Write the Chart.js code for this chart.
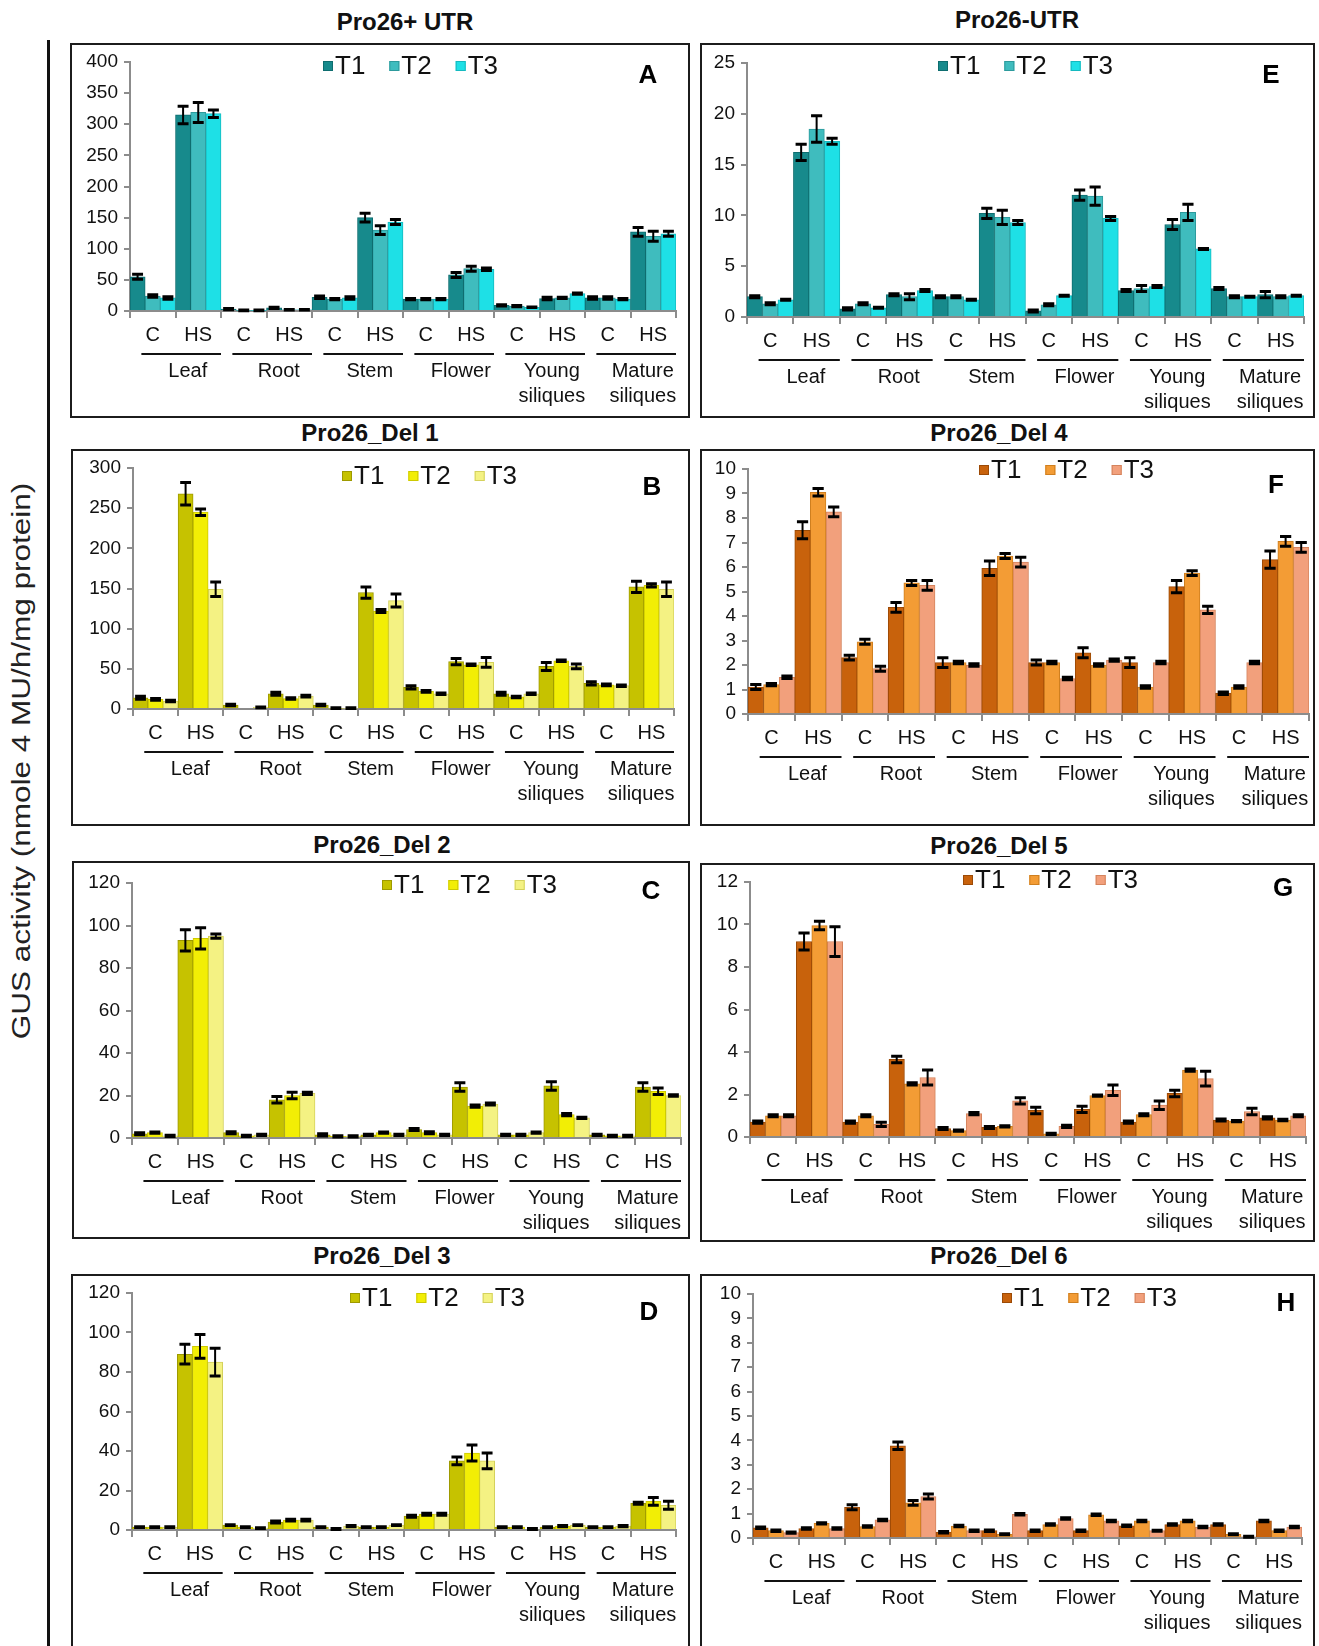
<!DOCTYPE html>
<html>
<head>
<meta charset="utf-8">
<script src="https://cdn.jsdelivr.net/npm/chart.js@4.4.1/dist/chart.umd.min.js"></script>
<style>
  html, body { margin: 0; padding: 0; background: #fff; }
  body { width: 1319px; height: 1646px; position: relative; overflow: hidden;
         font-family: "Liberation Sans", Arial, sans-serif; }
  canvas { position: absolute; }
  .frame { position: absolute; border: 2px solid #1c1c1c; box-sizing: border-box; pointer-events: none; }
  .ttl { position: absolute; font-weight: bold; font-size: 24px; white-space: nowrap;
         transform: translate(-50%, -50%); color: #111; }
  .letter { position: absolute; font-weight: bold; font-size: 26px;
            transform: translate(-50%, -50%); color: #000; }
  #vline { position: absolute; left: 47px; top: 40px; width: 3px; height: 1606px; background: #111; }
  #ylab { position: absolute; left: 21px; top: 761px; font-size: 25px; white-space: nowrap; color: #222;
          transform: translate(-50%, -50%) rotate(-90deg) scaleX(1.26); }
</style>
</head>
<body>
<div id="vline"></div>
<div id="ylab">GUS activity (nmole 4 MU/h/mg protein)</div>
<script>
// ---- shared categories ----
const conditionLabels = ['C', 'HS', 'C', 'HS', 'C', 'HS', 'C', 'HS', 'C', 'HS', 'C', 'HS'];
const tissueLabels = ['Leaf', 'Root', 'Stem', 'Flower', 'Young siliques', 'Mature siliques'];
const seriesNames = ['T1', 'T2', 'T3'];

// ---- Pro26+ UTR (A) ----
const utrPlusT1 = [55, 315, 3, 5, 22, 150, 19, 58, 9, 20, 21, 127];
const utrPlusT2 = [24, 319, 1, 2, 19, 130, 19, 68, 8, 21, 21, 120];
const utrPlusT3 = [21, 317, 1, 2, 21, 143, 19, 67, 6, 28, 19, 124];
const utrPlusErr1 = [4, 14, 1, 1, 2, 7, 1, 4, 1, 2, 2, 7];
const utrPlusErr2 = [2, 16, 0.5, 0.5, 1, 7, 1, 4, 1, 1, 2, 8];
const utrPlusErr3 = [2, 6, 0.5, 0.5, 2, 4, 1, 2, 0.5, 1, 1, 4];

// ---- Pro26-UTR (E) ----
const utrMinusT1 = [2.0, 16.2, 0.8, 2.2, 2.0, 10.2, 0.6, 12.0, 2.6, 9.1, 2.8, 2.2];
const utrMinusT2 = [1.3, 18.5, 1.3, 2.0, 2.0, 9.8, 1.2, 11.9, 2.8, 10.3, 2.0, 2.0];
const utrMinusT3 = [1.7, 17.3, 0.9, 2.6, 1.7, 9.3, 2.1, 9.7, 3.0, 6.7, 2.0, 2.1];
const utrMinusErr1 = [0.1, 0.8, 0.1, 0.1, 0.1, 0.5, 0.1, 0.5, 0.1, 0.5, 0.1, 0.3];
const utrMinusErr2 = [0.1, 1.3, 0.1, 0.3, 0.1, 0.7, 0.1, 0.9, 0.3, 0.8, 0.1, 0.1];
const utrMinusErr3 = [0.05, 0.3, 0.05, 0.1, 0.05, 0.2, 0.05, 0.2, 0.1, 0.05, 0.05, 0.05];

// ---- Pro26_Del 1 (B) ----
const del1T1 = [14, 268, 5, 19, 5, 145, 27, 59, 19, 53, 32, 152];
const del1T2 = [12, 245, 0, 13, 1, 122, 22, 55, 15, 60, 30, 154];
const del1T3 = [10, 149, 2, 16, 1, 135, 19, 58, 19, 53, 29, 149];
const del1Err1 = [2, 14, 1, 2, 1, 7, 2, 4, 2, 5, 2, 7];
const del1Err2 = [1, 4, 0, 1, 0.5, 2, 1, 1, 1, 1, 1, 2];
const del1Err3 = [1, 9, 0.5, 1, 0.5, 8, 1, 6, 1, 3, 1, 9];

// ---- Pro26_Del 4 (F) ----
const del4T1 = [1.1, 7.5, 2.3, 4.35, 2.1, 5.95, 2.1, 2.5, 2.1, 5.2, 0.85, 6.3];
const del4T2 = [1.2, 9.05, 2.95, 5.35, 2.1, 6.45, 2.1, 2.0, 1.1, 5.75, 1.1, 7.05];
const del4T3 = [1.5, 8.25, 1.85, 5.25, 2.0, 6.2, 1.45, 2.2, 2.1, 4.25, 2.1, 6.8];
const del4Err1 = [0.1, 0.35, 0.1, 0.2, 0.2, 0.3, 0.1, 0.2, 0.2, 0.25, 0.05, 0.35];
const del4Err2 = [0.05, 0.15, 0.1, 0.1, 0.05, 0.1, 0.05, 0.05, 0.05, 0.1, 0.05, 0.2];
const del4Err3 = [0.05, 0.2, 0.1, 0.2, 0.05, 0.2, 0.05, 0.05, 0.05, 0.15, 0.05, 0.2];

// ---- Pro26_Del 2 (C) ----
const del2T1 = [2, 93, 2.5, 18, 1.5, 1.5, 4, 24, 1.5, 24.5, 1.5, 24];
const del2T2 = [2.5, 94, 1, 20, 0.8, 2.5, 2.5, 15, 1.5, 11, 1, 22];
const del2T3 = [1, 95, 1.5, 21, 0.8, 1.5, 1.5, 16, 2.5, 9.5, 1, 20];
const del2Err1 = [0.5, 5, 0.5, 1.5, 0.5, 0.3, 0.5, 2, 0.3, 2, 0.3, 2];
const del2Err2 = [0.3, 5, 0.3, 1.5, 0.3, 0.3, 0.5, 0.5, 0.3, 0.5, 0.3, 1.5];
const del2Err3 = [0.3, 1, 0.3, 0.5, 0.3, 0.3, 0.3, 0.5, 0.3, 0.3, 0.3, 0.3];

// ---- Pro26_Del 5 (G) ----
const del5T1 = [0.7, 9.2, 0.7, 3.65, 0.4, 0.45, 1.25, 1.3, 0.7, 2.05, 0.8, 0.9];
const del5T2 = [1.0, 9.95, 1.0, 2.5, 0.3, 0.5, 0.15, 1.95, 1.05, 3.15, 0.75, 0.8];
const del5T3 = [1.0, 9.2, 0.6, 2.8, 1.1, 1.7, 0.5, 2.2, 1.5, 2.75, 1.2, 1.0];
const del5Err1 = [0.05, 0.4, 0.05, 0.15, 0.05, 0.05, 0.15, 0.15, 0.05, 0.15, 0.05, 0.05];
const del5Err2 = [0.05, 0.2, 0.05, 0.05, 0.03, 0.03, 0.03, 0.03, 0.05, 0.05, 0.03, 0.03];
const del5Err3 = [0.05, 0.7, 0.1, 0.35, 0.05, 0.15, 0.05, 0.25, 0.2, 0.35, 0.15, 0.05];

// ---- Pro26_Del 3 (D) ----
const del3T1 = [1.5, 89, 2.5, 4, 1.5, 1.5, 7, 35, 1.5, 1.5, 1.5, 13.5];
const del3T2 = [1.5, 93, 1.5, 5, 0.5, 1.5, 8, 39, 1.5, 2, 1.5, 14.5];
const del3T3 = [1.5, 85, 1, 5, 2, 2.5, 8, 35, 0.5, 2.5, 2, 12.5];
const del3Err1 = [0.2, 5, 0.2, 0.5, 0.2, 0.2, 0.5, 2, 0.2, 0.2, 0.2, 0.5];
const del3Err2 = [0.2, 6, 0.2, 0.5, 0.2, 0.2, 0.5, 4, 0.2, 0.3, 0.2, 2];
const del3Err3 = [0.2, 7, 0.2, 0.5, 0.3, 0.2, 0.5, 4, 0.2, 0.2, 0.3, 2];

// ---- Pro26_Del 6 (H) ----
const del6T1 = [0.42, 0.39, 1.26, 3.78, 0.24, 0.3, 0.3, 0.3, 0.5, 0.55, 0.55, 0.7];
const del6T2 = [0.3, 0.6, 0.47, 1.44, 0.49, 0.15, 0.55, 0.95, 0.7, 0.7, 0.15, 0.3];
const del6T3 = [0.22, 0.39, 0.74, 1.7, 0.3, 0.97, 0.8, 0.7, 0.3, 0.45, 0.05, 0.45];
const del6Err1 = [0.03, 0.03, 0.1, 0.15, 0.03, 0.03, 0.03, 0.03, 0.03, 0.03, 0.03, 0.03];
const del6Err2 = [0.03, 0.03, 0.03, 0.1, 0.03, 0.02, 0.03, 0.03, 0.03, 0.03, 0.02, 0.03];
const del6Err3 = [0.03, 0.03, 0.03, 0.1, 0.03, 0.03, 0.03, 0.03, 0.02, 0.03, 0.02, 0.03];

// ---- colour families ----
const tealFill = ['#178a8c', '#3fbcbe', '#1ee0e6'];
const tealEdge = ['#0e6d6f', '#2d9a9c', '#15b9bf'];
const yellowFill = ['#c6c200', '#f2ee05', '#f4f283'];
const yellowEdge = ['#9e9a00', '#cdc900', '#d4d15c'];
const orangeFill = ['#c8620c', '#f39c35', '#f2a07c'];
const orangeEdge = ['#9c4a06', '#cf7f1f', '#d4835d'];

const FONT = '"Liberation Sans", Arial, sans-serif';

// panel frames and layout (page pixels)
const panels = [
  { title: 'Pro26+ UTR', letter: 'A', titleAt: [405, 22], letterAt: [648, 74],
    box: [70, 43, 690, 418], plot: [130, 62, 676, 311], max: 400, step: 50,
    legendAt: [323, 66], fill: tealFill, edge: tealEdge,
    series: [utrPlusT1, utrPlusT2, utrPlusT3], errors: [utrPlusErr1, utrPlusErr2, utrPlusErr3] },
  { title: 'Pro26-UTR', letter: 'E', titleAt: [1017, 20], letterAt: [1271, 74],
    box: [700, 43, 1315, 418], plot: [747, 63, 1304, 317], max: 25, step: 5,
    legendAt: [938, 66], fill: tealFill, edge: tealEdge,
    series: [utrMinusT1, utrMinusT2, utrMinusT3], errors: [utrMinusErr1, utrMinusErr2, utrMinusErr3] },
  { title: 'Pro26_Del 1', letter: 'B', titleAt: [370, 433], letterAt: [652, 486],
    box: [71, 449, 690, 826], plot: [133, 468, 674, 709], max: 300, step: 50,
    legendAt: [342, 476], fill: yellowFill, edge: yellowEdge,
    series: [del1T1, del1T2, del1T3], errors: [del1Err1, del1Err2, del1Err3] },
  { title: 'Pro26_Del 4', letter: 'F', titleAt: [999, 433], letterAt: [1276, 484],
    box: [700, 449, 1315, 826], plot: [748, 469, 1309, 714], max: 10, step: 1,
    legendAt: [979, 470], fill: orangeFill, edge: orangeEdge,
    series: [del4T1, del4T2, del4T3], errors: [del4Err1, del4Err2, del4Err3] },
  { title: 'Pro26_Del 2', letter: 'C', titleAt: [382, 845], letterAt: [651, 890],
    box: [72, 861, 690, 1239], plot: [132, 883, 681, 1138], max: 120, step: 20,
    legendAt: [382, 885], fill: yellowFill, edge: yellowEdge,
    series: [del2T1, del2T2, del2T3], errors: [del2Err1, del2Err2, del2Err3] },
  { title: 'Pro26_Del 5', letter: 'G', titleAt: [999, 846], letterAt: [1283, 887],
    box: [700, 863, 1315, 1242], plot: [750, 882, 1306, 1137], max: 12, step: 2,
    legendAt: [963, 880], fill: orangeFill, edge: orangeEdge,
    series: [del5T1, del5T2, del5T3], errors: [del5Err1, del5Err2, del5Err3] },
  { title: 'Pro26_Del 3', letter: 'D', titleAt: [382, 1256], letterAt: [649, 1311],
    box: [71, 1274, 690, 1652], plot: [132, 1293, 676, 1530], max: 120, step: 20,
    legendAt: [350, 1298], fill: yellowFill, edge: yellowEdge,
    series: [del3T1, del3T2, del3T3], errors: [del3Err1, del3Err2, del3Err3] },
  { title: 'Pro26_Del 6', letter: 'H', titleAt: [999, 1256], letterAt: [1286, 1302],
    box: [700, 1274, 1315, 1652], plot: [753, 1294, 1302, 1538], max: 10, step: 1,
    legendAt: [1002, 1298], fill: orangeFill, edge: orangeEdge,
    series: [del6T1, del6T2, del6T3], errors: [del6Err1, del6Err2, del6Err3] }
];

// error bars, grouped tissue labels and the in-plot legend
const panelDecor = {
  id: 'panelDecor',
  afterDatasetsDraw(chart) {
    const ctx = chart.ctx, ys = chart.scales.y;
    chart.data.datasets.forEach((ds, i) => {
      const meta = chart.getDatasetMeta(i);
      meta.data.forEach((bar, j) => {
        const v = ds.data[j], e = ds.err[j];
        if (!e) return;
        const yt = ys.getPixelForValue(v + e);
        const yb = ys.getPixelForValue(Math.max(0, v - e));
        const half = bar.width * 0.36;
        ctx.save();
        ctx.strokeStyle = '#000';
        ctx.lineWidth = 2;
        ctx.beginPath(); ctx.moveTo(bar.x, yt); ctx.lineTo(bar.x, yb); ctx.stroke();
        ctx.lineWidth = 3;
        ctx.beginPath();
        ctx.moveTo(bar.x - half, yt); ctx.lineTo(bar.x + half, yt);
        ctx.moveTo(bar.x - half, yb); ctx.lineTo(bar.x + half, yb);
        ctx.stroke();
        ctx.restore();
      });
    });
  },
  afterDraw(chart, args, opts) {
    const ctx = chart.ctx, xs = chart.scales.x;
    const cw = (xs.right - xs.left) / conditionLabels.length;
    const base = chart.chartArea.bottom;
    ctx.save();
    // tissue groups: underline plus name
    tissueLabels.forEach((name, g) => {
      const gl = xs.left + 2 * g * cw;
      ctx.strokeStyle = '#111';
      ctx.lineWidth = 2;
      ctx.beginPath();
      ctx.moveTo(gl + 0.25 * cw, base + 43);
      ctx.lineTo(gl + 2.0 * cw, base + 43);
      ctx.stroke();
      ctx.fillStyle = '#111';
      ctx.font = '20px ' + FONT;
      ctx.textAlign = 'center';
      ctx.textBaseline = 'middle';
      const lines = name.split(' ');
      const cx = gl + 1.27 * cw;
      lines.forEach((ln, k) => ctx.fillText(ln, cx, base + 60 + k * 25));
    });
    // legend
    const [lx, ly] = opts.at;
    let x = lx;
    ctx.font = '26px ' + FONT;
    ctx.textAlign = 'left';
    ctx.textBaseline = 'middle';
    chart.data.datasets.forEach((ds) => {
      ctx.fillStyle = ds.backgroundColor;
      ctx.fillRect(x, ly - 5, 10, 10);
      ctx.strokeStyle = ds.borderColor;
      ctx.lineWidth = 1;
      ctx.strokeRect(x + 0.5, ly - 4.5, 9, 9);
      ctx.fillStyle = '#111';
      ctx.fillText(ds.label, x + 12, ly + 1);
      x += 12 + ctx.measureText(ds.label).width + 24;
    });
    ctx.restore();
  }
};

function addDiv(cls, text, x, y) {
  const d = document.createElement('div');
  d.className = cls;
  d.textContent = text;
  d.style.left = x + 'px';
  d.style.top = y + 'px';
  document.body.appendChild(d);
}

panels.forEach((p) => {
  const [bx0, by0, bx1, by1] = p.box;
  const [px0, py0, px1, py1] = p.plot;
  const W = bx1 - bx0, H = by1 - by0;
  const cv = document.createElement('canvas');
  cv.width = W; cv.height = H;
  cv.style.left = bx0 + 'px'; cv.style.top = by0 + 'px';
  cv.style.width = W + 'px'; cv.style.height = H + 'px';
  document.body.appendChild(cv);

  const fr = document.createElement('div');
  fr.className = 'frame';
  fr.style.left = bx0 + 'px'; fr.style.top = by0 + 'px';
  fr.style.width = W + 'px'; fr.style.height = H + 'px';
  document.body.appendChild(fr);

  addDiv('ttl', p.title, p.titleAt[0], p.titleAt[1]);
  addDiv('letter', p.letter, p.letterAt[0], p.letterAt[1]);

  new Chart(cv, {
    type: 'bar',
    data: {
      labels: conditionLabels,
      datasets: p.series.map((vals, i) => ({
        label: seriesNames[i],
        data: vals,
        err: p.errors[i],
        backgroundColor: p.fill[i],
        borderColor: p.edge[i],
        borderWidth: 1,
        categoryPercentage: 1.0,
        barPercentage: 1.0
      }))
    },
    options: {
      responsive: false,
      animation: false,
      devicePixelRatio: 1,
      layout: { padding: { left: 0, top: py0 - by0, right: bx1 - px1, bottom: 0 } },
      plugins: {
        legend: { display: false },
        tooltip: { enabled: false },
        title: { display: false },
        panelDecor: { at: [p.legendAt[0] - bx0, p.legendAt[1] - by0] }
      },
      scales: {
        x: {
          grid: { offset: true, drawOnChartArea: false, tickLength: 7, color: '#8c8c8c', lineWidth: 2 },
          border: { color: '#8c8c8c', width: 2 },
          ticks: { font: { size: 20, family: FONT }, color: '#111', padding: 5,
                   maxRotation: 0, autoSkip: false },
          afterFit: (s) => { s.height = by1 - py1; }
        },
        y: {
          min: 0, max: p.max,
          ticks: { stepSize: p.step, autoSkip: false, maxTicksLimit: 30,
                   font: { size: 19, family: FONT }, color: '#111', padding: 6 },
          grid: { drawOnChartArea: false, tickLength: 6, color: '#8c8c8c', lineWidth: 2 },
          border: { color: '#8c8c8c', width: 2 },
          afterFit: (s) => { s.width = px0 - bx0; }
        }
      }
    },
    plugins: [panelDecor]
  });
});
</script>
</body>
</html>
